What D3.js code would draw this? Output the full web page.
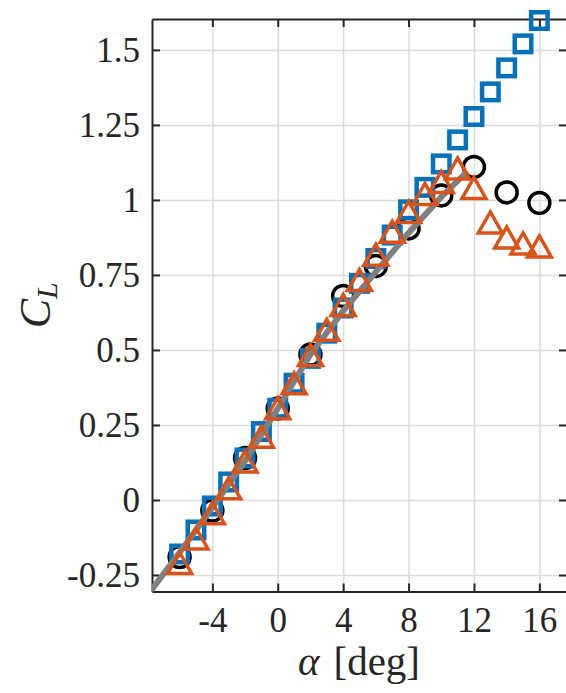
<!DOCTYPE html>
<html>
<head>
<meta charset="utf-8">
<script src="https://cdn.jsdelivr.net/npm/d3@7"></script>
<style>
  html, body { margin: 0; padding: 0; background: #fff; }
  svg { display: block; }
</style>
</head>
<body>
<svg id="chart" width="566" height="693"></svg>
<script>
// Lift coefficient versus angle of attack
const alphaCircle = [-6, -4, -2, 0, 2, 4, 6, 8, 10, 12, 14, 16];
const clCircle    = [-0.19, -0.035, 0.14, 0.305, 0.485, 0.68, 0.78, 0.905, 1.015, 1.11, 1.025, 0.99];

const alphaSquare = [-6, -5, -4, -3, -2, -1, 0, 1, 2, 3, 4, 5, 6, 7, 8, 9, 10, 11, 12, 13, 14, 15, 16];
const clSquare    = [-0.18, -0.10, -0.02, 0.06, 0.14, 0.228, 0.306, 0.389, 0.472, 0.556, 0.64, 0.722,
                     0.805, 0.883, 0.967, 1.042, 1.12, 1.20, 1.278, 1.36, 1.44, 1.52, 1.598];

const alphaTriangle = [-6, -5, -4, -3, -2, -1, 0, 1, 2, 3, 4, 5, 6, 7, 8, 9, 10, 11, 12, 13, 14, 15, 16];
const clTriangle    = [-0.21, -0.128, -0.044, 0.039, 0.128, 0.211, 0.306, 0.389, 0.483, 0.567, 0.65, 0.733,
                       0.817, 0.894, 0.96, 1.02, 1.06, 1.105, 1.04, 0.925, 0.875, 0.855, 0.845];

const alphaLine = [-8, -6, -4, -2, 0, 2, 4, 6, 8, 10, 11.6];
const clLine    = [-0.32, -0.175, -0.025, 0.13, 0.305, 0.485, 0.63, 0.76, 0.89, 1.01, 1.095];

const xTicks = [-4, 0, 4, 8, 12, 16];
const xTickLabels = ["-4", "0", "4", "8", "12", "16"];
const yTicks = [-0.25, 0, 0.25, 0.5, 0.75, 1, 1.25, 1.5];
const yTickLabels = ["-0.25", "0", "0.25", "0.5", "0.75", "1", "1.25", "1.5"];

const plotL = 152, plotR = 567, plotT = 19, plotB = 591.5;
const serif = "'Liberation Serif', 'Times New Roman', serif";
const svg = d3.select("#chart");

const x = d3.scaleLinear().domain([-7.69, 17.69]).range([plotL, plotR]);
const y = d3.scaleLinear().domain([-0.305, 1.603]).range([plotB, plotT]);

// grid
const grid = svg.append("g").attr("class", "grid");
grid.append("g")
  .attr("transform", `translate(0,${plotB})`)
  .call(d3.axisBottom(x).tickValues(xTicks).tickSize(-(plotB - plotT)).tickFormat(""))
  .call(g => g.select(".domain").remove());
grid.append("g")
  .attr("transform", `translate(${plotL},0)`)
  .call(d3.axisLeft(y).tickValues(yTicks).tickSize(-(plotR - plotL)).tickFormat(""))
  .call(g => g.select(".domain").remove());
grid.selectAll("line").attr("stroke", "#dcdcdc").attr("stroke-width", 1.5);

// axes box with inward ticks
const axisColor = "#262626";
const fontSize = 35;
const gx = svg.append("g").attr("transform", `translate(0,${plotB})`)
  .call(d3.axisBottom(x).tickValues(xTicks).tickSizeInner(-8).tickSizeOuter(0).tickPadding(16)
        .tickFormat((d, i) => xTickLabels[i]));
const gxTop = svg.append("g").attr("transform", `translate(0,${plotT})`)
  .call(d3.axisTop(x).tickValues(xTicks).tickSizeInner(-8).tickSizeOuter(0).tickFormat(""));
const gy = svg.append("g").attr("transform", `translate(${plotL},0)`)
  .call(d3.axisLeft(y).tickValues(yTicks).tickSizeInner(-8).tickSizeOuter(0).tickPadding(12)
        .tickFormat((d, i) => yTickLabels[i]));
const gyRight = svg.append("g").attr("transform", `translate(${plotR},0)`)
  .call(d3.axisRight(y).tickValues(yTicks).tickSizeInner(-8).tickSizeOuter(0).tickFormat(""));

[gx, gxTop, gy, gyRight].forEach(g => {
  g.attr("font-family", null).attr("font-size", null);
  g.selectAll(".domain").attr("stroke", axisColor).attr("stroke-width", 2);
  g.selectAll(".tick line").attr("stroke", axisColor).attr("stroke-width", 2);
  g.selectAll("text")
    .style("font-family", serif)
    .style("font-size", fontSize + "px")
    .attr("fill", axisColor);
});

// data marks
const plot = svg.append("g");
const clipId = "plot-clip";
svg.append("defs").append("clipPath").attr("id", clipId)
  .append("rect").attr("x", plotL).attr("y", plotT).attr("width", plotR - plotL).attr("height", plotB - plotT);

// circles
plot.append("g").selectAll("circle")
  .data(alphaCircle.map((a, i) => [a, clCircle[i]]))
  .join("circle")
  .attr("cx", d => x(d[0])).attr("cy", d => y(d[1]))
  .attr("r", 10.5)
  .attr("fill", "none").attr("stroke", "#000").attr("stroke-width", 3.5);

// squares
const sq = 16.5;
plot.append("g").selectAll("rect")
  .data(alphaSquare.map((a, i) => [a, clSquare[i]]))
  .join("rect")
  .attr("x", d => x(d[0]) - sq / 2).attr("y", d => y(d[1]) - sq / 2)
  .attr("width", sq).attr("height", sq)
  .attr("fill", "none").attr("stroke", "#0072BD").attr("stroke-width", 4.5);

// linear lift curve
const line = d3.line().x(d => x(d[0])).y(d => y(d[1]));
plot.append("path")
  .datum(alphaLine.map((a, i) => [a, clLine[i]]))
  .attr("clip-path", `url(#${clipId})`)
  .attr("d", line)
  .attr("fill", "none").attr("stroke", "#808080").attr("stroke-width", 6);

// triangles
const tw = 24, th = 21;
const triPath = `M0,${-th / 2}L${tw / 2},${th / 2}L${-tw / 2},${th / 2}Z`;
plot.append("g").selectAll("path")
  .data(alphaTriangle.map((a, i) => [a, clTriangle[i]]))
  .join("path")
  .attr("transform", d => `translate(${x(d[0])},${y(d[1])})`)
  .attr("d", triPath)
  .attr("fill", "none").attr("stroke", "#D95319").attr("stroke-width", 3.5)
  .attr("stroke-linejoin", "miter");

// axis titles
const xl = svg.append("text")
  .attr("x", (plotL + 566) / 2).attr("y", 675)
  .attr("text-anchor", "middle")
  .style("font-family", serif).style("font-size", "41px")
  .attr("fill", axisColor);
xl.append("tspan").attr("font-style", "italic").text("α");
xl.append("tspan").attr("dx", 14).text("[deg]");

const yl = svg.append("text")
  .attr("transform", `translate(50,${(plotT + plotB) / 2}) rotate(-90)`)
  .attr("text-anchor", "middle")
  .style("font-family", serif).style("font-size", "44px")
  .attr("fill", axisColor);
yl.append("tspan").attr("font-style", "italic").text("C");
yl.append("tspan").attr("font-style", "italic").style("font-size", "30px").attr("dy", 7).text("L");
</script>
</body>
</html>
